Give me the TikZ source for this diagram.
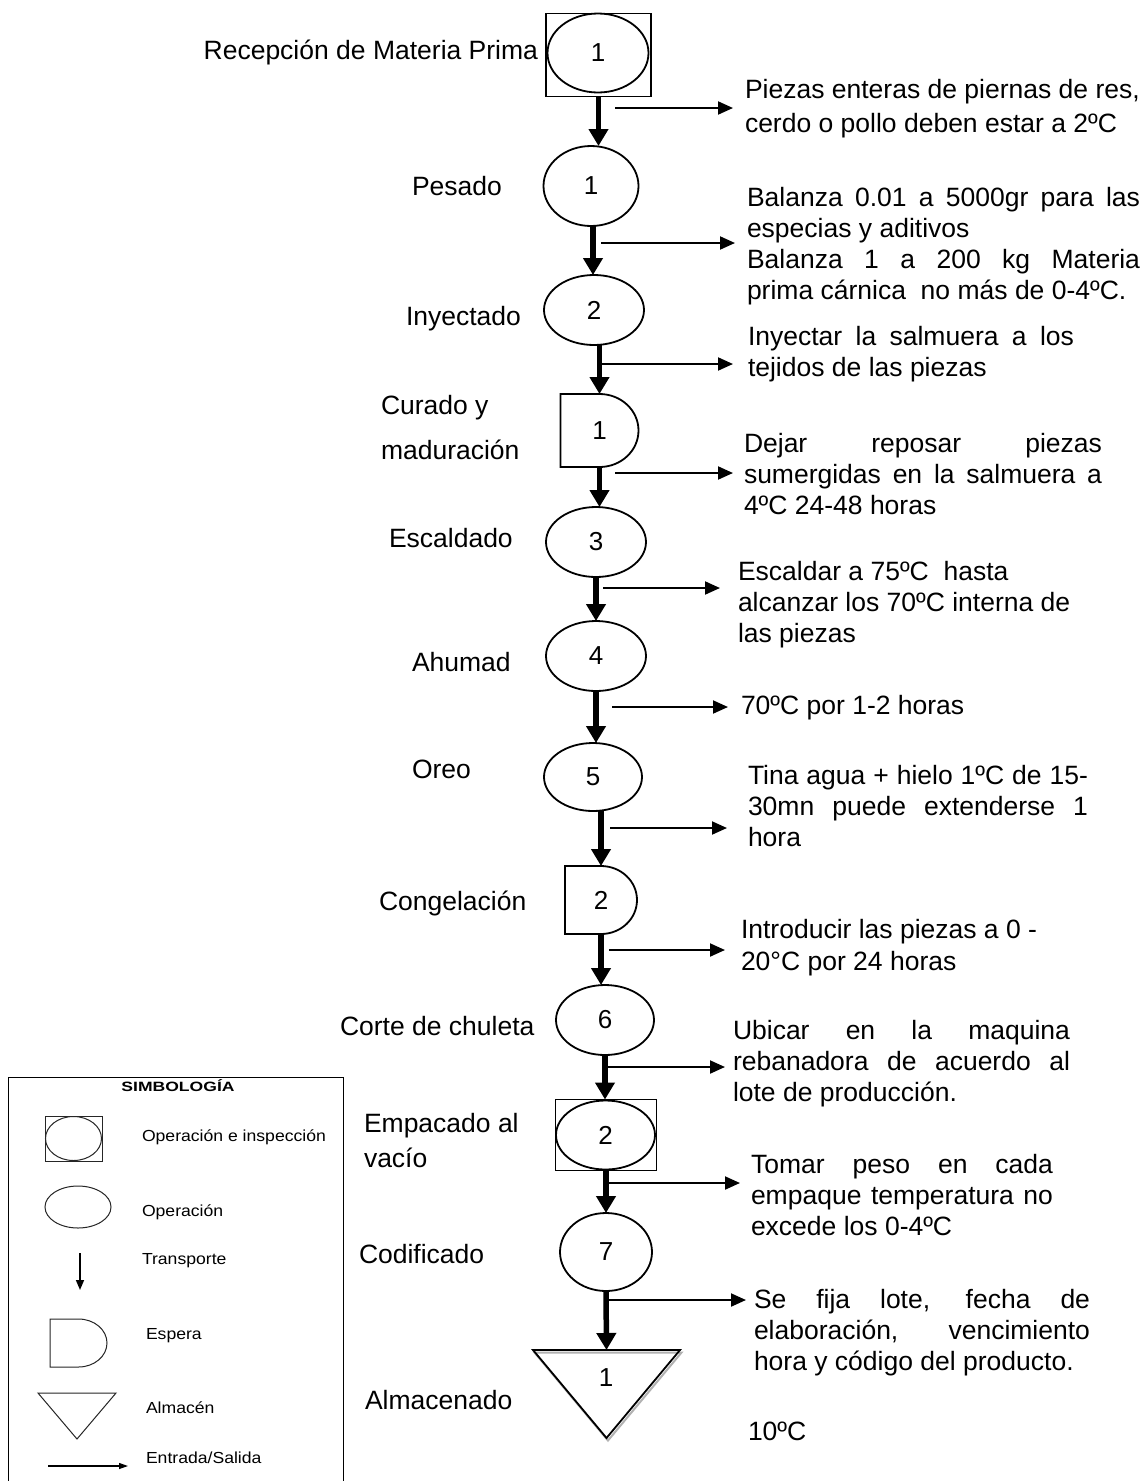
\documentclass[tikz,border=0pt]{standalone}
\usepackage{fontspec}
\usepackage{graphicx}
\setmainfont{Liberation Sans}
\usetikzlibrary{shapes.geometric,arrows.meta,calc}

% fixed-height strut so that the top of a paragraph node sits a known distance above its first baseline
\newcommand\firststrut{\rule{0pt}{25pt}}
% slightly widened lettering used in the legend
\newcommand\legwide[1]{\scalebox{1.1}[1]{#1}}
% "espera" outline (flat left half, rounded right half) drawn on a named rectangle node
\newcommand\esperaD[2][]{%
  \draw[#1] (#2.north) -- (#2.north west) -- (#2.south west) -- (#2.south)
    .. controls ($(#2.south)!0.5523!(#2.south east)$) and ($(#2.east)!0.5523!(#2.south east)$) .. (#2.east)
    .. controls ($(#2.east)!0.5523!(#2.north east)$) and ($(#2.north)!0.5523!(#2.north east)$) .. (#2.north) -- cycle;}

\begin{document}
\begin{tikzpicture}[x=1pt,y=-1pt,
  every node/.style={inner sep=0pt,outer sep=0pt},
  big/.style={font=\fontsize{26.5}{31}\selectfont},
  lbl/.style={big,anchor=base west},
  para/.style={big,anchor=north west,align=left},
  num/.style={font=\fontsize{26}{29}\selectfont},
  op/.style={draw,ellipse,line width=1.8pt,num},
  box/.style={draw,rectangle,line width=1.3pt},
  waitbox/.style={rectangle,num},
  flow/.style={line width=5.5pt,-{Triangle[length=17pt,width=19pt]}},
  io/.style={line width=2pt,-{Triangle[length=15pt,width=13pt]}},
  leg/.style={font=\fontsize{16}{19}\selectfont,anchor=base west},
  legshape/.style={draw=black!85,line width=1pt}]

\fill[white] (0,0) rectangle (1145,1481);
\useasboundingbox (0,0) rectangle (1145,1481);

% ---------- process symbols ----------
\node[box,minimum width=105pt,minimum height=83pt] (n1) at (598.5,55) {};
\node[op,minimum width=101pt,minimum height=79pt] (n1e) at (598,53) {1};
\node[op,minimum width=95pt,minimum height=80pt] (n2) at (591,186) {1};
\node[op,minimum width=100pt,minimum height=70pt] (n3) at (594,310) {2};
\node[waitbox,minimum width=78pt,minimum height=73pt] (n4) at (599.5,430.5) {1};
\esperaD[line width=1.8pt]{n4}
\node[op,minimum width=100pt,minimum height=70pt] (n5) at (596,542) {3};
\node[op,minimum width=100pt,minimum height=70pt] (n6) at (596,656) {4};
\node[op,minimum width=98pt,minimum height=68pt] (n7) at (593,777) {5};
\node[waitbox,minimum width=72pt,minimum height=68pt] (n8) at (601,900) {2};
\esperaD[line width=1.8pt]{n8}
\node[op,minimum width=98pt,minimum height=70pt] (n9) at (605,1020) {6};
\node[box,minimum width=101pt,minimum height=71pt] (n10) at (606,1135) {};
\node[op,minimum width=99pt,minimum height=69pt] (n10e) at (605.5,1135) {2};
\node[op,minimum width=92pt,minimum height=78pt] (n11) at (606,1252) {7};
\node[minimum width=147pt,minimum height=88pt] (n12) at (606.5,1394) {};
\draw[black!30,line width=2pt] ([shift={(1.5,2.5)}]n12.north west) -- ([shift={(1.5,2.5)}]n12.north east) -- ([shift={(1.5,2.5)}]n12.south) -- cycle;
\draw[line width=1.8pt] (n12.north west) -- (n12.north east) -- (n12.south) -- cycle;
\node[num] (n12n) at (606,1378) {1};

% ---------- transport arrows ----------
\draw[flow] (n1.south) -- (n1.south |- n2.north);
\draw[flow] ([xshift=2pt]n2.south) -- ([xshift=2pt]n2.south |- n3.north);
\draw[flow] (n3.south -| n4.north) -- (n4.north);
\draw[flow] (n4.south) -- (n4.south |- n5.north);
\draw[flow] (n5.south) -- (n5.south |- n6.north);
\draw[flow] (n6.south) -- (n6.south |- n7.north);
\draw[flow] (n7.south -| n8.north) -- (n8.north);
\draw[flow] (n8.south) -- (n8.south |- n9.north);
\draw[flow] (n9.south) -- (n9.south |- n10.north);
\draw[flow] (n10.south) -- (n10.south |- n11.north);
\draw[flow] (n11.south) -- (n12.north);

% ---------- input / output arrows ----------
\coordinate (a1) at (615,108);  \coordinate (b1) at (733,108);
\coordinate (a2) at (601,243);  \coordinate (b2) at (735,243);
\coordinate (a3) at (598,364);  \coordinate (b3) at (733,364);
\coordinate (a4) at (615,473);  \coordinate (b4) at (733,473);
\coordinate (a5) at (603,588);  \coordinate (b5) at (720,588);
\coordinate (a6) at (612,707);  \coordinate (b6) at (728,707);
\coordinate (a7) at (610,828);  \coordinate (b7) at (727,828);
\coordinate (a8) at (609,950);  \coordinate (b8) at (725,950);
\coordinate (a9) at (605,1067); \coordinate (b9) at (725,1067);
\coordinate (a10) at (606,1183); \coordinate (b10) at (740,1183);
\coordinate (a11) at (606,1300); \coordinate (b11) at (746,1300);
\foreach \i in {1,...,11} {\draw[io] (a\i) -- (b\i);}

% ---------- step names ----------
\node[big,anchor=base east] (l1) at (538,59) {Recepción de Materia Prima};
\node[lbl] (l2) at (412,195) {Pesado};
\node[lbl] (l3) at (406,325) {Inyectado};
\node[para] (l4) at (381,389) {\firststrut Curado y\\[14pt]maduración};
\node[lbl] (l5) at (389,547) {Escaldado};
\node[lbl] (l6) at (412,671) {Ahumad};
\node[lbl] (l7) at (412,778) {Oreo};
\node[lbl] (l8) at (379,910) {Congelación};
\node[lbl] (l9) at (340,1035) {Corte de chuleta};
\node[para] (l10) at (364,1107) {\firststrut Empacado al\\[4pt]vacío};
\node[lbl] (l11) at (359,1263) {Codificado};
\node[lbl] (l12) at (365,1409) {Almacenado};

% ---------- step notes ----------
\node[para] (t1) at (745,73) {\firststrut Piezas enteras de piernas de res,\\[3pt]cerdo o pollo deben estar a 2ºC};
\node[para] (t2) at (747,181) {\firststrut\makebox[393pt][s]{Balanza 0.01 a 5000gr para las}\\
  especias y aditivos\\
  \makebox[393pt][s]{Balanza 1 a 200 kg Materia}\\
  prima cárnica~ no más de 0-4ºC.};
\node[para] (t3) at (748,320) {\firststrut\makebox[326pt][s]{Inyectar la salmuera a los}\\tejidos de las piezas};
\node[para] (t4) at (744,427) {\firststrut\makebox[358pt][s]{Dejar reposar piezas}\\
  \makebox[358pt][s]{sumergidas en la salmuera a}\\4ºC 24-48 horas};
\node[para] (t5) at (738,555) {\firststrut Escaldar a 75ºC~ hasta\\alcanzar los 70ºC interna de\\las piezas};
\node[lbl] (t6) at (741,714) {70ºC por 1-2 horas};
\node[para] (t7) at (748,759) {\firststrut\makebox[340pt][s]{Tina agua + hielo 1ºC de 15-}\\
  \makebox[340pt][s]{30mn puede extenderse 1}\\hora};
\node[para] (t8) at (741,913) {\firststrut Introducir las piezas a 0 -\\[1pt]20°C por 24 horas};
\node[para] (t9) at (733,1014) {\firststrut\makebox[337pt][s]{Ubicar en la maquina}\\
  \makebox[337pt][s]{rebanadora de acuerdo al}\\lote de producción.};
\node[para] (t10) at (751,1148) {\firststrut\makebox[302pt][s]{Tomar peso en cada}\\
  \makebox[302pt][s]{empaque temperatura no}\\excede los 0-4ºC};
\node[para] (t11) at (754,1283) {\firststrut\makebox[336pt][s]{Se fija lote, fecha de}\\
  \makebox[336pt][s]{elaboración, vencimiento}\\hora y código del producto.};
\node[lbl] (t12) at (748,1440) {10ºC};

% ---------- legend ----------
\draw[line width=1pt] (8,1481) -- (8,1077) -- (343,1077) -- (343,1481);
\node[font=\bfseries\fontsize{13.5}{15}\selectfont,anchor=base] (legt) at (178,1091) {\scalebox{1.3}[1]{SIMBOLOGÍA}};
\node[legshape,rectangle,minimum width=57pt,minimum height=45pt] (lsq) at (73.5,1138.5) {};
\node[legshape,ellipse,minimum width=56pt,minimum height=44pt] (lsqe) at (73.5,1138.5) {};
\node[legshape,ellipse,minimum width=66pt,minimum height=42pt] (lop) at (78,1207) {};
\coordinate (ltr1) at (80,1253); \coordinate (ltr2) at (80,1290);
\draw[line width=1.6pt,-{Triangle[length=10pt,width=8pt]}] (ltr1) -- (ltr2);
\node[minimum width=57pt,minimum height=48pt] (lesp) at (78.5,1343) {};
\esperaD[legshape]{lesp}
\node[minimum width=78pt,minimum height=46pt] (lalm) at (77,1416) {};
\draw[legshape] (lalm.north west) -- (lalm.north east) -- (lalm.south) -- cycle;
\coordinate (lin1) at (48,1466); \coordinate (lin2) at (128,1466);
\draw[line width=1.2pt,-{Triangle[length=9pt,width=6pt]}] (lin1) -- (lin2);
\node[leg] (lg1) at (142,1141) {\legwide{Operación e inspección}};
\node[leg] (lg2) at (142,1216) {\legwide{Operación}};
\node[leg] (lg3) at (142,1264) {\legwide{Transporte}};
\node[leg] (lg4) at (146,1339) {\legwide{Espera}};
\node[leg] (lg5) at (146,1413) {\legwide{Almacén}};
\node[leg] (lg6) at (146,1463) {\legwide{Entrada/Salida}};
\end{tikzpicture}
\end{document}
